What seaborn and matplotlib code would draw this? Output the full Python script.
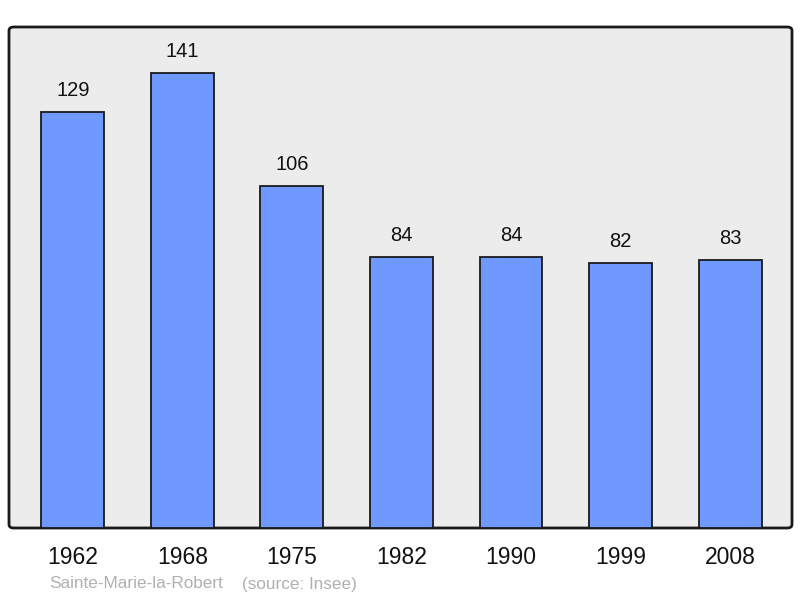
import matplotlib
matplotlib.use("Agg")
import matplotlib.pyplot as plt
from matplotlib.patches import FancyBboxPatch
import seaborn as sns
import pandas as pd

years = ["1962", "1968", "1975", "1982", "1990", "1999", "2008"]
population = [129, 141, 106, 84, 84, 82, 83]
commune = "Sainte-Marie-la-Robert"
source = "(source: Insee)"

sns.set_style("white")
plt.rcParams["font.family"] = ["Liberation Sans", "DejaVu Sans"]

df = pd.DataFrame({"year": years, "pop": population})

fig = plt.figure(figsize=(8, 5.98), dpi=100)
ax = fig.add_axes([9 / 800, 70 / 598, 783 / 800, 501 / 598])
ax.patch.set_visible(False)
ax.set_zorder(1)

# rounded frame behind the bars
frame = FancyBboxPatch((9 / 800, 70 / 598), 783 / 800, 501 / 598,
                       boxstyle="round,pad=0,rounding_size=0.006",
                       transform=fig.transFigure, facecolor="#ececec",
                       edgecolor="#1a1a1a", linewidth=2, zorder=-1)
fig.patches.append(frame)

sns.barplot(data=df, x="year", y="pop", color="#7099ff", saturation=1,
            width=0.575, edgecolor="#1a1a1a", linewidth=1.3, ax=ax, zorder=2)

for i, v in enumerate(population):
    ax.annotate(str(v), (i, v), xytext=(0, 15.5), textcoords="offset points",
                ha="center", va="center", fontsize=14.5, color="#111111")

ax.set_xlim(-0.584, 6.566)
ax.set_ylim(0, 155.2)
ax.set_yticks([])
for s in ax.spines.values():
    s.set_visible(False)
ax.tick_params(axis="x", length=0, pad=13, labelsize=16.5, labelcolor="#111111")
ax.set_xlabel("")
ax.set_ylabel("")

fig.text(49 / 800, 1 - 584 / 598, commune, fontsize=12.3,
         color="#b0b0b0", ha="left", va="center")
fig.text(242 / 800, 1 - 584 / 598, source, fontsize=12.3,
         color="#b0b0b0", ha="left", va="center")

fig.savefig("out.png", dpi=100)
